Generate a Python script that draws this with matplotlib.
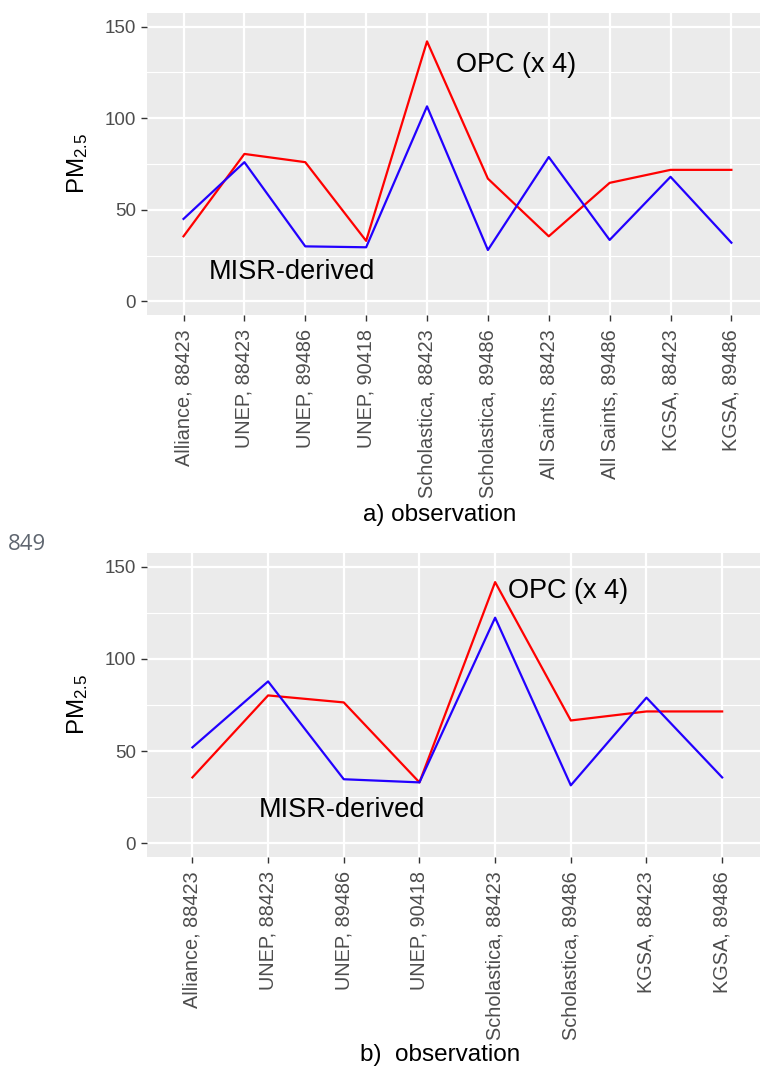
import numpy as np
import matplotlib
matplotlib.use("Agg")
import matplotlib.pyplot as plt
from matplotlib.ticker import MultipleLocator

plt.rcParams['font.family'] = ['Liberation Sans', 'DejaVu Sans']
plt.rcParams['mathtext.fontset'] = 'custom'
plt.rcParams['mathtext.rm'] = 'Liberation Sans'
plt.rcParams['mathtext.it'] = 'Liberation Sans:italic'

# panel a
labels_a = ["Alliance, 88423", "UNEP, 88423", "UNEP, 89486", "UNEP, 90418",
            "Scholastica, 88423", "Scholastica, 89486", "All Saints, 88423",
            "All Saints, 89486", "KGSA, 88423", "KGSA, 89486"]
opc_a = [35.5, 80.5, 76.0, 33.0, 142.0, 67.0, 35.5, 64.7, 71.8, 71.8]
misr_a = [45.0, 76.0, 30.0, 29.5, 106.5, 28.0, 78.8, 33.5, 68.0, 32.0]

# panel b
labels_b = ["Alliance, 88423", "UNEP, 88423", "UNEP, 89486", "UNEP, 90418",
            "Scholastica, 88423", "Scholastica, 89486", "KGSA, 88423", "KGSA, 89486"]
opc_b = [35.7, 80.2, 76.4, 33.0, 141.7, 66.6, 71.5, 71.5]
misr_b = [52.0, 87.8, 34.7, 33.0, 122.4, 31.4, 79.0, 35.7]

W, H = 760, 1069
fig = plt.figure(figsize=(W / 100, H / 100), dpi=100)


def px(x0, y0, x1, y1):
    # pixel box -> figure fraction
    return [x0 / W, 1 - y1 / H, (x1 - x0) / W, (y1 - y0) / H]


def panel(rect, labels, opc, misr, xmax, opc_pos, misr_pos, title_y, title, ylab_y):
    ax = fig.add_axes(rect)
    ax.set_facecolor('#EBEBEB')
    x = np.arange(len(labels))
    ax.plot(x, opc, color='#FF0000', lw=1.6, zorder=3)
    ax.plot(x, misr, color='#2200FF', lw=1.6, zorder=4)
    ax.set_xlim(-0.6, xmax)
    ax.set_ylim(-7.5, 157.5)
    ax.set_xticks(x)
    ax.set_xticklabels(labels, rotation=90, fontsize=14.3, color='#4D4D4D')
    ax.yaxis.set_major_locator(MultipleLocator(50))
    ax.yaxis.set_minor_locator(MultipleLocator(25))
    ax.tick_params(axis='y', which='major', labelsize=13.5, labelcolor='#4D4D4D',
                   color='#333333', length=4, width=1, pad=4)
    ax.tick_params(axis='y', which='minor', length=0)
    ax.tick_params(axis='x', color='#333333', length=4, width=1, pad=6)
    ax.grid(which='major', color='white', lw=1.6)
    ax.grid(which='minor', axis='y', color='white', lw=0.8)
    ax.set_axisbelow(True)
    for s in ax.spines.values():
        s.set_visible(False)
    ax.text(opc_pos[0], opc_pos[1], "OPC (x 4)", fontsize=19.5, ha='left', va='baseline')
    ax.text(misr_pos[0], misr_pos[1], "MISR-derived", fontsize=19.5, ha='center', va='baseline')
    fig.text(440 / W, 1 - title_y / H, title, fontsize=17.5, ha='center', va='center')
    fig.text(78 / W, 1 - ylab_y / H, r'PM$_{\mathrm{2.5}}$', fontsize=17.3,
             rotation=90, ha='center', va='center')
    return ax


panel(px(147, 13, 760, 315), labels_a, opc_a, misr_a, 9.47,
      (4.47, 125), (1.78, 12), 515, "a) observation", 164)
panel(px(147, 553, 760, 857), labels_b, opc_b, misr_b, 7.5,
      (4.17, 133.3), (1.975, 14), 1055, "b)  observation", 705)

fig.text(8 / W, 1 - 545 / H, "849", fontsize=16, color='#5F6670',
         family=['Open Sans', 'DejaVu Sans'], ha='left', va='center')

fig.savefig("out.png", dpi=100)
